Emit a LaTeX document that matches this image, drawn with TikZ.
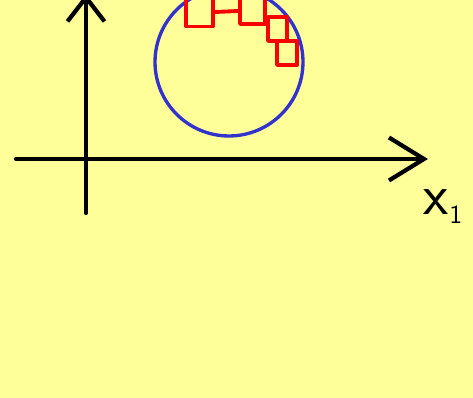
\documentclass[tikz,border=0pt]{standalone}
\usepackage{tikz}
\usetikzlibrary{arrows.meta,positioning}
\definecolor{paper}{RGB}{255,255,153}
\definecolor{ring}{RGB}{50,50,205}
\definecolor{patch}{RGB}{250,0,0}
\begin{document}
\begin{tikzpicture}[x=0.02cm,y=-0.02cm,line cap=round,line join=round,
ax/.style={line width=2.4pt,black},
cr/.style={line width=1.9pt,ring},
sq/.style={draw=patch,line width=2.2pt,inner sep=0pt},
lk/.style={line width=2.2pt,patch}]
\useasboundingbox (0,0) rectangle (473,398);
\clip (0,0) rectangle (473,398);
\fill[paper] (0,0) rectangle (473,398);
% axes
\coordinate (o) at (86,159);
\coordinate (yb) at (86,213); \coordinate (yt) at (86,-6);
\coordinate (xl) at (16,159); \coordinate (xr) at (428,159);
\draw[ax,-{Straight Barb[length=0.48cm,width=0.74cm,line width=2.4pt]}] (yb) -- (yt);
\draw[ax,-{Straight Barb[length=0.7cm,width=0.86cm,line width=2.4pt]}] (xl) -- (xr);
\node[inner sep=0pt,anchor=base west,font=\sffamily\fontsize{33}{33}\selectfont] (lx) at (423,215)
  {x\kern0.5pt\raisebox{-5pt}{\fontsize{15}{15}\selectfont 1}};
% circle
\node[circle,cr,draw=ring,minimum size=2.96cm,inner sep=0pt] (c) at (229,62) {};
% squares
\node[sq,minimum width=0.54cm,minimum height=0.58cm] (sq1) at (199.5,12) {};
\node[sq,minimum width=0.5cm,minimum height=0.52cm] (sq2) at (252.5,11) {};
\node[sq,minimum width=0.38cm,minimum height=0.48cm] (sq3) at (277.5,29) {};
\node[sq,minimum width=0.4cm,minimum height=0.48cm] (sq4) at (287,53) {};
\draw[lk] (sq1.east) -- (sq2.west);
\end{tikzpicture}
\end{document}
